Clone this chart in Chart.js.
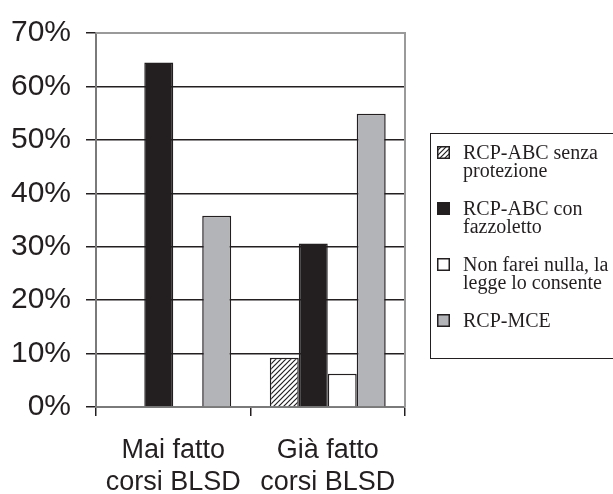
<!DOCTYPE html>
<html>
<head>
<meta charset="utf-8">
<script src="https://cdn.jsdelivr.net/npm/chart.js@4"></script>
<style>
  html, body { margin: 0; padding: 0; background: #fff; }
  #wrap { position: relative; width: 613px; height: 494px; overflow: hidden; }
  #legend {
    position: absolute; left: 430px; top: 133px; width: 200px; height: 226px;
    border: 1px solid #231f20; box-sizing: border-box;
    font-family: "Liberation Serif", "Times New Roman", serif;
    font-size: 20px; line-height: 18px; color: #231f20;
  }
  .item { position: absolute; left: 6px; }
  .item canvas { position: absolute; left: 0; top: 3px; }
  .item .txt { position: absolute; left: 26px; top: 0; white-space: nowrap; }
</style>
</head>
<body>
<div id="wrap">
  <canvas id="c" width="613" height="494"></canvas>
  <div id="legend"></div>
</div>
<script>
// data
const categories = [['Mai fatto', 'corsi BLSD'], ['Già fatto', 'corsi BLSD']];
const seriesNames = [
  ['RCP-ABC senza', 'protezione'],
  ['RCP-ABC con', 'fazzoletto'],
  ['Non farei nulla, la', 'legge lo consente'],
  ['RCP-MCE']
];
const senzaProtezione = [0, 9.2];
const conFazzoletto = [64.5, 30.6];
const nonFareiNulla = [0, 6.2];
const rcpMce = [35.8, 54.9];
const yTicks = [0, 10, 20, 30, 40, 50, 60, 70];

const dark = '#231f20';

// diagonal hatch for the first series
function hatch() {
  const p = document.createElement('canvas');
  p.width = 5; p.height = 5;
  const g = p.getContext('2d');
  g.fillStyle = '#fff';
  g.fillRect(0, 0, 5, 5);
  g.strokeStyle = dark;
  g.lineWidth = 1.2;
  g.beginPath();
  g.moveTo(0, 5); g.lineTo(5, 0);
  g.moveTo(-1, 1); g.lineTo(1, -1);
  g.moveTo(4, 6); g.lineTo(6, 4);
  g.stroke();
  return g.createPattern(p, 'repeat');
}

const ctx = document.getElementById('c').getContext('2d');
const fills = [hatch(), dark, '#ffffff', '#b3b4b7'];
const values = [senzaProtezione, conFazzoletto, nonFareiNulla, rcpMce];

const plotBorder = {
  id: 'plotBorder',
  afterDraw(chart) {
    const a = chart.chartArea;
    const c = chart.ctx;
    c.save();
    c.strokeStyle = '#9a9a9a';
    c.lineWidth = 2;
    c.beginPath();
    c.moveTo(a.left, a.top);
    c.lineTo(a.right, a.top);
    c.lineTo(a.right, a.bottom);
    c.stroke();
    c.restore();
  }
};

const chart = new Chart(ctx, {
  type: 'bar',
  data: {
    labels: categories,
    datasets: values.map((v, i) => ({
      label: seriesNames[i].join(' '),
      data: v,
      backgroundColor: fills[i],
      borderColor: dark,
      borderWidth: 1.5,
      borderSkipped: 'start',
      categoryPercentage: 0.75,
      barPercentage: 1.0
    }))
  },
  options: {
    responsive: false,
    animation: false,
    layout: { padding: { top: 24, right: 208, left: 0, bottom: 0 } },
    plugins: {
      legend: { display: false },
      tooltip: { enabled: false }
    },
    scales: {
      x: {
        offset: true,
        afterFit: s => { s.height = 87; },
        grid: {
          offset: true,
          drawOnChartArea: false,
          drawTicks: true,
          tickLength: 9,
          color: dark,
          lineWidth: 1.5
        },
        border: { color: '#7a7a7a', width: 2 },
        ticks: {
          color: dark,
          padding: 18,
          maxRotation: 0,
          font: { family: '"Liberation Sans", Arial, sans-serif', size: 27, lineHeight: 1.2 }
        }
      },
      y: {
        min: yTicks[0],
        max: yTicks[yTicks.length - 1],
        afterFit: s => { s.width = 96; },
        afterBuildTicks: s => { s.ticks = yTicks.map(v => ({ value: v })); },
        grid: {
          color: dark,
          lineWidth: 1.5,
          tickLength: 10
        },
        border: { color: '#7a7a7a', width: 2 },
        ticks: {
          color: dark,
          padding: 15,
          font: { family: '"Liberation Sans", Arial, sans-serif', size: 30 },
          callback: v => v + '%'
        }
      }
    }
  },
  plugins: [plotBorder]
});

// legend built from the datasets
const legend = document.getElementById('legend');
chart.data.datasets.forEach((ds, i) => {
  const item = document.createElement('div');
  item.className = 'item';
  item.style.top = (9 + i * 56) + 'px';
  const sw = document.createElement('canvas');
  sw.width = 13; sw.height = 13;
  const g = sw.getContext('2d');
  g.fillStyle = ds.backgroundColor;
  g.fillRect(0, 0, 13, 13);
  g.strokeStyle = dark;
  g.lineWidth = 1.5;
  g.strokeRect(0.75, 0.75, 11.5, 11.5);
  const txt = document.createElement('div');
  txt.className = 'txt';
  txt.innerHTML = seriesNames[i].join('<br>');
  item.appendChild(sw);
  item.appendChild(txt);
  legend.appendChild(item);
});
</script>
</body>
</html>
